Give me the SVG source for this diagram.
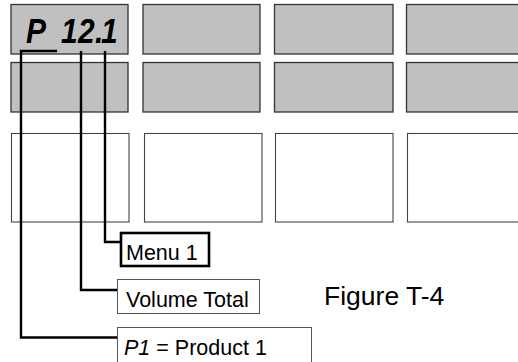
<svg xmlns="http://www.w3.org/2000/svg" width="518" height="362" viewBox="0 0 518 362">
<defs>
<style>
.disp{fill:#c0c0c0;stroke:#333;stroke-width:1.3}
.cell{fill:#fff;stroke:#444;stroke-width:1.1}
.lbl{fill:#fff;stroke:#555;stroke-width:1}
.lblb{fill:#fff;stroke:#000;stroke-width:2.6}
.con{fill:none;stroke:#000;stroke-width:2.4}
.t{font-family:"Liberation Sans",Arial,sans-serif;font-size:21.5px;fill:#000}
.seg{font-family:"Liberation Sans",Arial,sans-serif;font-size:30px;font-weight:bold;font-style:italic;fill:#000}
</style>
</defs>
<rect width="518" height="362" fill="#fff"/>
<g id="display-row1">
<g id="d1"><rect class="disp" x="11" y="4.5" width="117" height="49.5"/>
<text class="seg" transform="translate(0,43) scale(1,1.18)" x="26 47 61 78 95 101" y="0">P 12.1</text></g>
<rect id="d2" class="disp" x="143" y="4.5" width="117" height="49.5"/>
<rect id="d3" class="disp" x="274.5" y="4.5" width="118.5" height="49.5"/>
<rect id="d4" class="disp" x="406.5" y="4.5" width="118" height="49.5"/>
</g>
<g id="display-row2">
<rect id="d5" class="disp" x="11" y="62.5" width="117" height="49.5"/>
<rect id="d6" class="disp" x="143" y="62.5" width="117" height="49.5"/>
<rect id="d7" class="disp" x="274.5" y="62.5" width="118.5" height="49.5"/>
<rect id="d8" class="disp" x="406.5" y="62.5" width="118" height="49.5"/>
</g>
<g id="keys">
<rect id="k1" class="cell" x="11.5" y="133.5" width="117.5" height="88.5"/>
<rect id="k2" class="cell" x="144.5" y="133.5" width="117.5" height="88.5"/>
<rect id="k3" class="cell" x="275.5" y="133.5" width="117.5" height="88.5"/>
<rect id="k4" class="cell" x="407.5" y="133.5" width="118" height="88.5"/>
</g>
<g id="connectors">
<polyline class="con" points="57,51 21,51 21,337.5 118,337.5"/>
<polyline class="con" points="81,51 81,290 118,290"/>
<polyline class="con" points="105,51 105,242 121,242"/>
</g>
<g id="menu1"><rect class="lblb" x="121" y="233" width="88" height="33"/><text class="t" x="126" y="260">Menu 1</text></g>
<g id="volume-total"><rect class="lbl" x="117.5" y="279.5" width="142" height="34"/><text class="t" x="126" y="306.5">Volume Total</text></g>
<g id="product"><rect class="lbl" x="117.5" y="327.5" width="194" height="40"/><text class="t" x="124" y="355"><tspan font-style="italic">P1</tspan> = Product 1</text></g>
<text id="figure" x="324" y="305" style="font-family:'Liberation Sans',Arial,sans-serif;font-size:26.5px;fill:#000">Figure T-4</text>
</svg>
